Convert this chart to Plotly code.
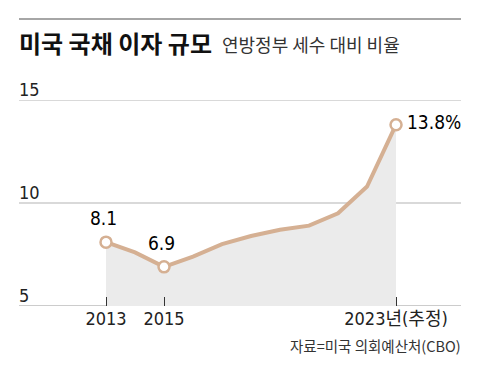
import plotly.graph_objects as go

years = [2013, 2014, 2015, 2016, 2017, 2018, 2019, 2020, 2021, 2022, 2023]
ratio = [8.1, 7.6, 6.9, 7.4, 8.0, 8.4, 8.7, 8.9, 9.5, 10.8, 13.8]
label_years = [2013, 2015, 2023]
label_values = [8.1, 6.9, 13.8]
label_texts = ["8.1", "6.9", "13.8%"]
tick_years = [2013, 2015, 2023]
tick_texts = ["2013", "2015", "2023년(추정)"]
y_ticks = [5, 10, 15]

title = "미국 국채 이자 규모"
subtitle = "연방정부 세수 대비 비율"
source = "자료=미국 의회예산처(CBO)"

LINE = "#D5B093"
NUM_FONT = "DejaVu Sans Condensed, Noto Sans CJK KR, sans-serif"
KR_FONT = "Noto Sans CJK KR, sans-serif"

fig = go.Figure()
fig.add_trace(go.Scatter(
    x=years, y=ratio, mode="lines", fill="tozeroy", fillcolor="#EBEBEB",
    line=dict(color=LINE, width=4), hoverinfo="skip"))
fig.add_trace(go.Scatter(
    x=label_years, y=label_values, mode="markers",
    marker=dict(size=11, color="white", line=dict(color=LINE, width=2.5)),
    cliponaxis=False, hoverinfo="skip"))

shapes = [dict(type="line", xref="paper", yref="paper", x0=0, x1=1, y0=1.393, y1=1.393,
               line=dict(color="#888", width=1.5))]
for yv in y_ticks:
    shapes.append(dict(type="line", xref="paper", yref="y", x0=0, x1=1, y0=yv, y1=yv,
                       layer="below",
                       line=dict(color="#BBBBBB" if yv == y_ticks[0] else "#CCCCCC", width=1.5)))

ann = []
for yv in y_ticks:
    ann.append(dict(x=0, xref="paper", y=yv, yref="y", text=str(yv), showarrow=False,
                    xanchor="left", yanchor="bottom", yshift=-2, xshift=-2,
                    font=dict(family=NUM_FONT, size=18, color="#222")))
for i, (xv, yv, t) in enumerate(zip(label_years, label_values, label_texts)):
    if i == len(label_years) - 1:
        ann.append(dict(x=xv, y=yv, text=t, showarrow=False, xanchor="left",
                        yanchor="middle", xshift=9, yshift=3,
                        font=dict(family=NUM_FONT, size=19, color="#000")))
    else:
        ann.append(dict(x=xv, y=yv, text=t, showarrow=False, xanchor="center",
                        yanchor="middle", xshift=-3, yshift=24,
                        font=dict(family=NUM_FONT, size=19, color="#000")))
ann.append(dict(x=0, xref="paper", y=1.281, yref="paper", text="<b>" + title + "</b>",
                showarrow=False, xanchor="left", yanchor="middle", xshift=-2,
                font=dict(family=KR_FONT, size=24, color="#111")))
ann.append(dict(x=(222 - 19) / 442, xref="paper", y=1.272, yref="paper", text=subtitle,
                showarrow=False, xanchor="left", yanchor="middle", xshift=-2,
                font=dict(family=KR_FONT, size=18, color="#333")))
ann.append(dict(x=1, xref="paper", y=-0.191, yref="paper", text=source,
                showarrow=False, xanchor="right", yanchor="middle", xshift=2,
                font=dict(family=KR_FONT, size=14.5, color="#333")))

fig.update_layout(
    width=480, height=384,
    margin=dict(l=19, r=19, t=99.5, b=78),
    paper_bgcolor="white", plot_bgcolor="white",
    showlegend=False,
    annotations=ann,
    shapes=shapes,
    xaxis=dict(range=[2010, 2025.24], tickmode="array", tickvals=tick_years,
               ticktext=tick_texts, ticks="inside", ticklen=9, tickcolor="#333",
               tickwidth=1, showgrid=False, zeroline=False, showline=False,
               tickfont=dict(family=NUM_FONT, size=18, color="#222")),
    yaxis=dict(range=[5, 15], tickvals=y_ticks, showticklabels=False,
               showgrid=False, zeroline=False, showline=False, ticks=""),
)

fig.write_html("out.html", config={"displayModeBar": False},
               post_script="document.body.style.margin='0';")
